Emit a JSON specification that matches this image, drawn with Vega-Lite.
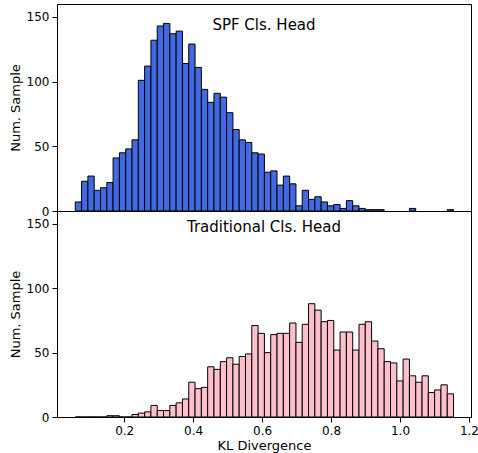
{
  "$schema": "https://vega.github.io/schema/vega-lite/v6.json",
  "padding": {"left": 8, "top": 3, "right": 0, "bottom": 0},
  "spacing": 0,
  "bounds": "flush",
  "config": {
    "font": "DejaVu Sans",
    "view": {"stroke": "black", "strokeWidth": 1},
    "axis": {
      "labelFont": "DejaVu Sans", "labelFontSize": 12, "labelColor": "black",
      "titleFont": "DejaVu Sans", "titleFontSize": 13, "titleFontWeight": "normal", "titleColor": "black",
      "tickColor": "black", "tickSize": 5, "labelPadding": 3, "domainColor": "black", "grid": false
    },
    "title": {"font": "DejaVu Sans", "fontSize": 15, "fontWeight": "normal", "color": "black", "anchor": "middle"}
  },
  "datasets": {
    "spf": [
      {"lo": 0.0580, "hi": 0.0763, "n": 7},
      {"lo": 0.0763, "hi": 0.0946, "n": 23},
      {"lo": 0.0946, "hi": 0.1129, "n": 27},
      {"lo": 0.1129, "hi": 0.1312, "n": 16},
      {"lo": 0.1312, "hi": 0.1495, "n": 18},
      {"lo": 0.1495, "hi": 0.1677, "n": 22},
      {"lo": 0.1677, "hi": 0.1860, "n": 41},
      {"lo": 0.1860, "hi": 0.2043, "n": 45},
      {"lo": 0.2043, "hi": 0.2226, "n": 48},
      {"lo": 0.2226, "hi": 0.2409, "n": 55},
      {"lo": 0.2409, "hi": 0.2592, "n": 101},
      {"lo": 0.2592, "hi": 0.2775, "n": 112},
      {"lo": 0.2775, "hi": 0.2958, "n": 132},
      {"lo": 0.2958, "hi": 0.3141, "n": 143},
      {"lo": 0.3141, "hi": 0.3324, "n": 145},
      {"lo": 0.3324, "hi": 0.3506, "n": 137},
      {"lo": 0.3506, "hi": 0.3689, "n": 139},
      {"lo": 0.3689, "hi": 0.3872, "n": 114},
      {"lo": 0.3872, "hi": 0.4055, "n": 129},
      {"lo": 0.4055, "hi": 0.4238, "n": 111},
      {"lo": 0.4238, "hi": 0.4421, "n": 94},
      {"lo": 0.4421, "hi": 0.4604, "n": 84},
      {"lo": 0.4604, "hi": 0.4787, "n": 91},
      {"lo": 0.4787, "hi": 0.4970, "n": 88},
      {"lo": 0.4970, "hi": 0.5153, "n": 76},
      {"lo": 0.5153, "hi": 0.5335, "n": 63},
      {"lo": 0.5335, "hi": 0.5518, "n": 55},
      {"lo": 0.5518, "hi": 0.5701, "n": 53},
      {"lo": 0.5701, "hi": 0.5884, "n": 45},
      {"lo": 0.5884, "hi": 0.6067, "n": 44},
      {"lo": 0.6067, "hi": 0.6250, "n": 30},
      {"lo": 0.6250, "hi": 0.6433, "n": 31},
      {"lo": 0.6433, "hi": 0.6616, "n": 20},
      {"lo": 0.6616, "hi": 0.6799, "n": 27},
      {"lo": 0.6799, "hi": 0.6982, "n": 21},
      {"lo": 0.6982, "hi": 0.7164, "n": 4},
      {"lo": 0.7164, "hi": 0.7347, "n": 16},
      {"lo": 0.7347, "hi": 0.7530, "n": 9},
      {"lo": 0.7530, "hi": 0.7713, "n": 11},
      {"lo": 0.7713, "hi": 0.7896, "n": 7},
      {"lo": 0.7896, "hi": 0.8079, "n": 4},
      {"lo": 0.8079, "hi": 0.8262, "n": 5},
      {"lo": 0.8262, "hi": 0.8445, "n": 2},
      {"lo": 0.8445, "hi": 0.8628, "n": 8},
      {"lo": 0.8628, "hi": 0.8811, "n": 4},
      {"lo": 0.8811, "hi": 0.8993, "n": 2},
      {"lo": 0.8993, "hi": 0.9176, "n": 1},
      {"lo": 0.9176, "hi": 0.9359, "n": 1},
      {"lo": 0.9359, "hi": 0.9542, "n": 1},
      {"lo": 1.0274, "hi": 1.0457, "n": 2},
      {"lo": 1.1371, "hi": 1.1554, "n": 1}
    ],
    "trad": [
      {"lo": 0.0580, "hi": 0.0763, "n": 0},
      {"lo": 0.0763, "hi": 0.0946, "n": 0},
      {"lo": 0.0946, "hi": 0.1129, "n": 0},
      {"lo": 0.1129, "hi": 0.1312, "n": 0},
      {"lo": 0.1312, "hi": 0.1495, "n": 0},
      {"lo": 0.1495, "hi": 0.1677, "n": 1},
      {"lo": 0.1677, "hi": 0.1860, "n": 1},
      {"lo": 0.1860, "hi": 0.2043, "n": 0},
      {"lo": 0.2043, "hi": 0.2226, "n": 0},
      {"lo": 0.2226, "hi": 0.2409, "n": 2},
      {"lo": 0.2409, "hi": 0.2592, "n": 3},
      {"lo": 0.2592, "hi": 0.2775, "n": 4},
      {"lo": 0.2775, "hi": 0.2958, "n": 9},
      {"lo": 0.2958, "hi": 0.3141, "n": 5},
      {"lo": 0.3141, "hi": 0.3324, "n": 5},
      {"lo": 0.3324, "hi": 0.3506, "n": 9},
      {"lo": 0.3506, "hi": 0.3689, "n": 11},
      {"lo": 0.3689, "hi": 0.3872, "n": 14},
      {"lo": 0.3872, "hi": 0.4055, "n": 27},
      {"lo": 0.4055, "hi": 0.4238, "n": 22},
      {"lo": 0.4238, "hi": 0.4421, "n": 23},
      {"lo": 0.4421, "hi": 0.4604, "n": 39},
      {"lo": 0.4604, "hi": 0.4787, "n": 37},
      {"lo": 0.4787, "hi": 0.4970, "n": 43},
      {"lo": 0.4970, "hi": 0.5153, "n": 46},
      {"lo": 0.5153, "hi": 0.5335, "n": 41},
      {"lo": 0.5335, "hi": 0.5518, "n": 47},
      {"lo": 0.5518, "hi": 0.5701, "n": 49},
      {"lo": 0.5701, "hi": 0.5884, "n": 71},
      {"lo": 0.5884, "hi": 0.6067, "n": 65},
      {"lo": 0.6067, "hi": 0.6250, "n": 50},
      {"lo": 0.6250, "hi": 0.6433, "n": 64},
      {"lo": 0.6433, "hi": 0.6616, "n": 65},
      {"lo": 0.6616, "hi": 0.6799, "n": 65},
      {"lo": 0.6799, "hi": 0.6982, "n": 73},
      {"lo": 0.6982, "hi": 0.7164, "n": 58},
      {"lo": 0.7164, "hi": 0.7347, "n": 72},
      {"lo": 0.7347, "hi": 0.7530, "n": 88},
      {"lo": 0.7530, "hi": 0.7713, "n": 83},
      {"lo": 0.7713, "hi": 0.7896, "n": 74},
      {"lo": 0.7896, "hi": 0.8079, "n": 75},
      {"lo": 0.8079, "hi": 0.8262, "n": 52},
      {"lo": 0.8262, "hi": 0.8445, "n": 66},
      {"lo": 0.8445, "hi": 0.8628, "n": 66},
      {"lo": 0.8628, "hi": 0.8811, "n": 52},
      {"lo": 0.8811, "hi": 0.8993, "n": 72},
      {"lo": 0.8993, "hi": 0.9176, "n": 74},
      {"lo": 0.9176, "hi": 0.9359, "n": 59},
      {"lo": 0.9359, "hi": 0.9542, "n": 53},
      {"lo": 0.9542, "hi": 0.9725, "n": 43},
      {"lo": 0.9725, "hi": 0.9908, "n": 42},
      {"lo": 0.9908, "hi": 1.0091, "n": 28},
      {"lo": 1.0091, "hi": 1.0274, "n": 45},
      {"lo": 1.0274, "hi": 1.0457, "n": 32},
      {"lo": 1.0457, "hi": 1.0640, "n": 27},
      {"lo": 1.0640, "hi": 1.0822, "n": 32},
      {"lo": 1.0822, "hi": 1.1005, "n": 19},
      {"lo": 1.1005, "hi": 1.1188, "n": 21},
      {"lo": 1.1188, "hi": 1.1371, "n": 25},
      {"lo": 1.1371, "hi": 1.1554, "n": 18}
    ]
  },
  "vconcat": [
    {
      "width": 414,
      "height": 207,
      "title": {"text": "SPF Cls. Head", "offset": -41, "baseline": "alphabetic"},
      "layer": [
        {
          "mark": {"type": "rule", "color": "#808080", "strokeWidth": 1.5},
          "encoding": {"y": {"datum": 0, "type": "quantitative", "scale": {"domain": [0, 160], "nice": false}}}
        },
        {
          "data": {"name": "spf"},
          "mark": {"type": "bar", "fill": "#4169E1", "stroke": "black", "strokeWidth": 1},
          "encoding": {
            "x": {"field": "lo", "type": "quantitative", "scale": {"domain": [0.005, 1.206], "nice": false, "zero": false}, "axis": null},
            "x2": {"field": "hi"},
            "y": {"field": "n", "type": "quantitative", "scale": {"domain": [0, 160], "nice": false},
                  "axis": {"title": "Num. Sample", "values": [0, 25, 50, 75, 100, 125, 150], "titlePadding": 4}},
            "y2": {"datum": 0}
          }
        }
      ]
    },
    {
      "width": 414,
      "height": 206,
      "title": {"text": "Traditional Cls. Head", "offset": -36, "baseline": "alphabetic"},
      "layer": [
        {
          "mark": {"type": "rule", "color": "#808080", "strokeWidth": 1.5},
          "encoding": {"y": {"datum": 0, "type": "quantitative", "scale": {"domain": [0, 160], "nice": false}}}
        },
        {
          "data": {"name": "trad"},
          "mark": {"type": "bar", "fill": "#FFC0CB", "stroke": "black", "strokeWidth": 1},
          "encoding": {
            "x": {"field": "lo", "type": "quantitative", "scale": {"domain": [0.005, 1.206], "nice": false, "zero": false},
                  "axis": {"title": "KL Divergence", "values": [0.2, 0.4, 0.6, 0.8, 1.0, 1.2], "format": ".1f", "titlePadding": 3}},
            "x2": {"field": "hi"},
            "y": {"field": "n", "type": "quantitative", "scale": {"domain": [0, 160], "nice": false},
                  "axis": {"title": "Num. Sample", "values": [0, 25, 50, 75, 100, 125, 150], "titlePadding": 4}},
            "y2": {"datum": 0}
          }
        }
      ]
    }
  ]
}
